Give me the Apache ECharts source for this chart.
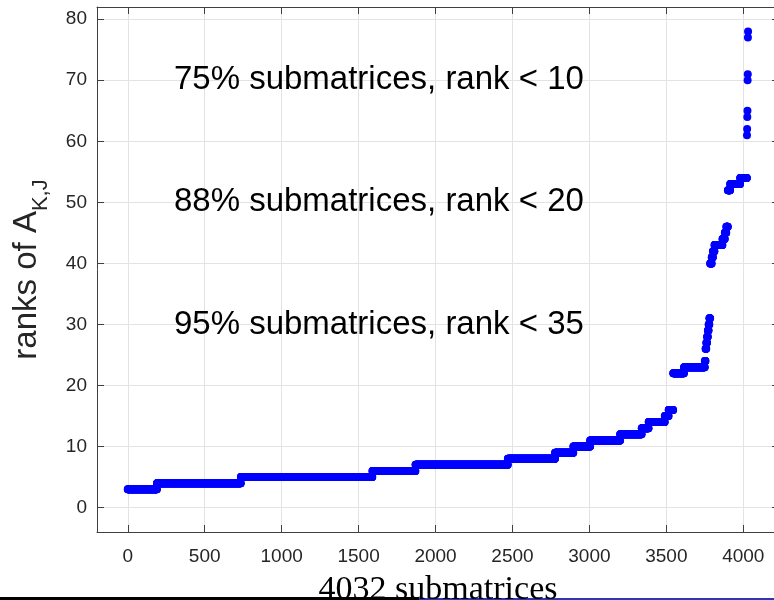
<!DOCTYPE html>
<html>
<head>
<meta charset="utf-8">
<script src="https://cdn.jsdelivr.net/npm/echarts@6/dist/echarts.min.js"></script>
<style>
html,body{margin:0;padding:0;background:#fff;}
#chart{width:774px;height:600px;}
</style>
</head>
<body>
<div id="chart"></div>
<script>
// Sorted ranks, stored as runs: rank value and how many submatrices have it
const rankValues = [3, 4, 5, 6, 7, 8, 9, 10, 11, 12, 13, 14, 15, 16, 22, 23, 24, 26, 27, 28, 29, 30, 31,
                    40, 41, 42, 43, 44, 45, 46, 52, 53, 54, 61, 62, 64, 65, 70, 71, 77, 78];
const rankCounts = [190, 545, 855, 280, 600, 307, 119, 109, 195, 140, 45, 105, 25, 30, 70, 135, 5, 5, 5, 5, 5, 5, 5,
                    10, 8, 10, 52, 15, 10, 10, 15, 65, 44, 1, 1, 1, 1, 1, 1, 1, 1];

const xTicks = [0, 500, 1000, 1500, 2000, 2500, 3000, 3500, 4000];
const yTicks = [0, 10, 20, 30, 40, 50, 60, 70, 80];

const annX = [300, 300, 300];
const annY = [70, 50, 30];
const annText = ['75% submatrices, rank < 10', '88% submatrices, rank < 20', '95% submatrices, rank < 35'];

const xTitle = '4032 submatrices';

// expand runs into (index, rank) points
const points = [];
let idx = 0;
for (let i = 0; i < rankValues.length; i++) {
  for (let k = 0; k < rankCounts[i]; k++) {
    points.push([idx, rankValues[i]]);
    idx++;
  }
}
const annData = annX.map((x, i) => [x, annY[i], annText[i]]);

const axisColor = '#404040';
const labelColor = '#262626';
const gridColor = '#e3e3e3';
const sans = 'Liberation Sans, Arial, Helvetica, sans-serif';
const plain = v => String(v);

const chart = echarts.init(document.getElementById('chart'), null, {renderer: 'canvas'});
chart.setOption({
  animation: false,
  backgroundColor: '#ffffff',
  grid: {left: 97, top: 7, width: 682, height: 525, containLabel: false, outerBoundsMode: 'none'},
  xAxis: [{
    type: 'value', min: -200, max: 4232, position: 'bottom',
    axisLine: {show: true, onZero: false, lineStyle: {color: axisColor, width: 1}},
    axisTick: {show: true, inside: true, length: 7, customValues: xTicks, lineStyle: {color: axisColor}},
    axisLabel: {customValues: xTicks, formatter: plain, color: labelColor, fontSize: 19, fontFamily: sans, margin: 15},
    splitLine: {show: true, lineStyle: {color: gridColor, width: 1}},
    name: xTitle, nameLocation: 'middle', nameGap: 41,
    nameTextStyle: {fontFamily: 'Liberation Serif, Times New Roman, serif', fontSize: 34, color: '#000'}
  }, {
    type: 'value', min: -200, max: 4232, position: 'top',
    axisLine: {show: true, onZero: false, lineStyle: {color: axisColor, width: 1}},
    axisTick: {show: true, inside: true, length: 7, customValues: xTicks, lineStyle: {color: axisColor}},
    axisLabel: {show: false},
    splitLine: {show: false}
  }],
  yAxis: [{
    type: 'value', min: -4, max: 82, position: 'left',
    axisLine: {show: true, onZero: false, lineStyle: {color: axisColor, width: 1}},
    axisTick: {show: true, inside: true, length: 7, customValues: yTicks, lineStyle: {color: axisColor}},
    axisLabel: {customValues: yTicks, formatter: plain, color: labelColor, fontSize: 19, fontFamily: sans, margin: 10},
    splitLine: {show: true, lineStyle: {color: gridColor, width: 1}},
    name: '{m|ranks of A}{s|K,J}', nameLocation: 'middle', nameGap: 45, nameRotate: 90,
    nameTextStyle: {
      color: labelColor, fontFamily: sans,
      rich: {
        m: {fontSize: 33, fontFamily: sans, color: labelColor, lineHeight: 50},
        s: {fontSize: 22, fontFamily: sans, color: labelColor, lineHeight: 22, verticalAlign: 'bottom'}
      }
    }
  }, {
    type: 'value', min: -4, max: 82, position: 'right',
    axisLine: {show: true, onZero: false, lineStyle: {color: axisColor, width: 1}},
    axisTick: {show: true, inside: true, length: 7, customValues: yTicks, lineStyle: {color: axisColor}},
    axisLabel: {show: false},
    splitLine: {show: false}
  }],
  series: [{
    type: 'scatter',
    xAxisIndex: 0, yAxisIndex: 0,
    data: points,
    symbol: 'circle', symbolSize: 8,
    itemStyle: {color: '#0000ff', opacity: 1},
    large: false, progressive: 0,
    silent: true, z: 3
  }, {
    type: 'scatter',
    xAxisIndex: 0, yAxisIndex: 0,
    data: annData,
    symbolSize: 0,
    silent: true,
    label: {
      show: true, position: 'right', distance: 0,
      formatter: p => p.data[2],
      color: '#000000', fontSize: 33, fontFamily: sans, opacity: 1
    },
    z: 4
  }],
  graphic: [
    {type: 'rect', shape: {x: 0, y: 597, width: 419, height: 3}, style: {fill: '#000'}, silent: true},
    {type: 'rect', shape: {x: 419, y: 598, width: 355, height: 2}, style: {fill: '#3434b2'}, silent: true}
  ]
});
</script>
</body>
</html>
